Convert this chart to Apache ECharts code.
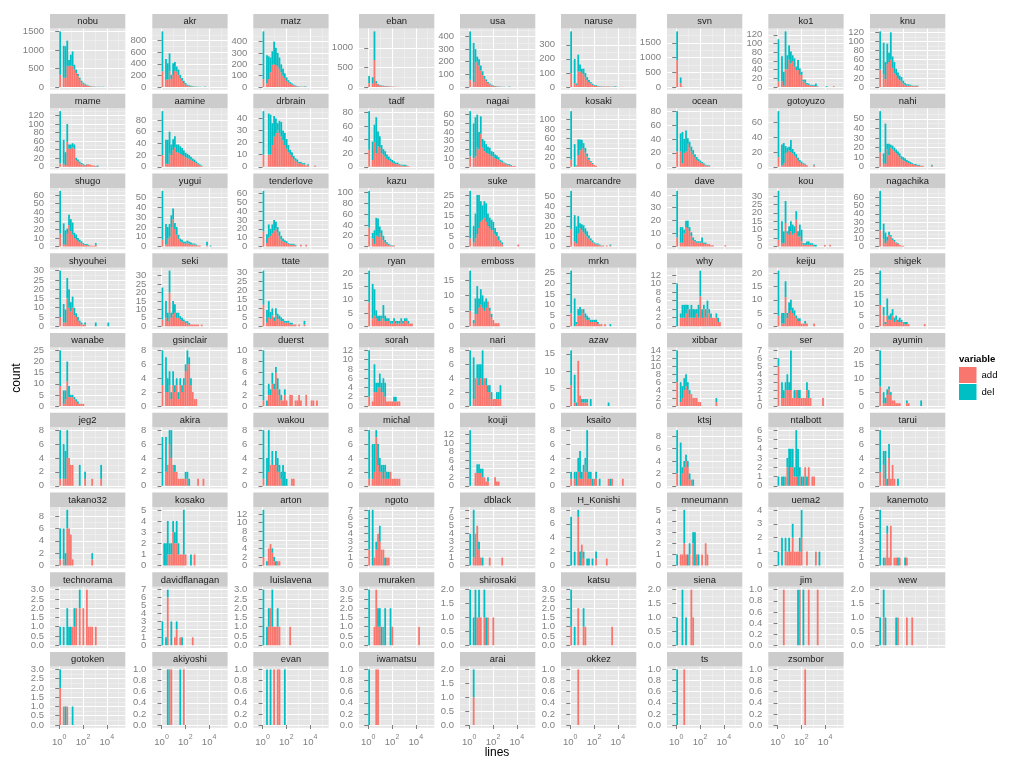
<!DOCTYPE html>
<html><head><meta charset="utf-8">
<script src="https://cdn.jsdelivr.net/npm/echarts@6/dist/echarts.min.js"></script>
<style>html,body{margin:0;padding:0;background:#fff}#c{width:1024px;height:768px}</style>
</head><body><div id="c"></div>
<script>
// ---- facet names (row-major, 9 per row) ----
const panelNames = ['nobu','akr','matz','eban','usa','naruse','svn','ko1','knu',
'mame','aamine','drbrain','tadf','nagai','kosaki','ocean','gotoyuzo','nahi',
'shugo','yugui','tenderlove','kazu','suke','marcandre','dave','kou','nagachika',
'shyouhei','seki','ttate','ryan','emboss','mrkn','why','keiju','shigek',
'wanabe','gsinclair','duerst','sorah','nari','azav','xibbar','ser','ayumin',
'jeg2','akira','wakou','michal','kouji','ksaito','ktsj','ntalbott','tarui',
'takano32','kosako','arton','ngoto','dblack','H_Konishi','mneumann','uema2','kanemoto',
'technorama','davidflanagan','luislavena','muraken','shirosaki','katsu','siena','jim','wew',
'gotoken','akiyoshi','evan','iwamatsu','arai','okkez','ts','zsombor'];

// y tick step per panel (same order)
const yStep = [500,200,100,500,100,100,500,20,20,
20,20,10,20,10,20,20,20,10,
10,10,10,20,5,10,10,5,10,
5,5,5,5,5,5,2,5,5,
5,2,2,2,2,5,2,1,5,
2,2,2,2,2,2,2,1,2,
2,1,2,1,1,2,1,1,1,
0.5,1,0.5,0.5,0.5,0.5,0.5,0.2,0.5,
0.5,0.2,0.2,0.2,0.5,0.2,0.2,0.2];

// x axis (log10 of lines) major / minor ticks
const xMajor = [0,2,4];
const xMinor = [1,3,5];
const binWidth = 0.15; // histogram bin width in log10 units; bin k covers [k*bw,(k+1)*bw]

// ---- counts per histogram bin: add (red) and del (teal) ----
const nobu_add = [330,0,250,250,570,560,580,560,470,380,290,200,130,90,65,45,30,20,12,8,5,3,2,2,1];
const nobu_del = [1170,0,860,850,680,170,290,400,130,90,60,50,40,30,20,15,10,8,5,4,3,3,8,2,5,2];
const akr_add = [270,0,125,130,270,140,210,280,268,210,154,108,68,40,23,15,10,6,4,3,2,1,0,0,0];
const akr_del = [690,0,360,280,310,70,200,150,86,90,56,46,40,28,17,13,10,8,5,3,2,2,2,1,8];
const matz_add = [70,0,30,70,130,195,200,195,180,160,130,100,80,55,40,28,20,13,8,5,3,2,1,1,2];
const matz_del = [420,0,250,200,130,120,200,150,120,100,70,60,40,30,20,15,10,8,5,3,2,2,1,4,2];
const eban_add = [100,0,90,690,100,60,40,30,25,20,18,15,12,10,8,5,3,2];
const eban_del = [180,0,160,730,50,20,15,10,8,6,5,4,3,2,2,1,1,1];
const usa_add = [57,0,40,195,200,170,130,95,65,45,30,20,13,9,6,4,3,2,1,1,0,0,1];
const usa_del = [383,0,308,105,40,50,40,30,22,15,10,8,6,4,3,2,2,1,1,1,0,0,4];
const naruse_add = [98,0,28,15,110,110,100,90,70,50,35,25,15,10,8,5,4,3,3,3,3,3,2,2,2,0,0,1,1,1];
const naruse_del = [297,0,172,10,120,50,30,40,30,20,15,10,8,5,4,3,2,2,1,1,1,1,1,1,1,5];
const svn_add = [920,0,134,10];
const svn_del = [970,0,190,0];
const ko1_add = [13,0,13,3,41,41,63,54,60,47,39,39,28,28,13,10,6,5,3,3,2,2,1,0,0,0,0,0,0,0,0,2];
const ko1_del = [97,0,58,32,87,32,33,28,13,19,8,23,15,7,4,7,3,3,2,2,2,6,1,0,0,0,0,2];
const knu_add = [38,0,28,17,50,55,60,42,30,25,18,15,12,8,5,3,3,3,2,2,2,2];
const knu_del = [84,0,69,38,45,20,60,25,25,15,14,10,10,6,4,3,3,2,1,1,1,1];

const mame_add = [8,0,7,4,58,42,42,45,42,15,12,8,6,5,3,5,6,5,3,3,2];
const mame_del = [122,0,56,30,42,10,10,10,10,6,5,4,3,2,1,1,0,0,0,0,0,3];
const aamine_add = [20,0,5,5,23,20,28,33,25,24,22,20,18,16,15,14,12,10,8,6,4,2,1];
const aamine_del = [75,0,41,41,37,18,19,19,13,14,13,12,10,8,7,6,5,4,4,3,2,2,1];
const drbrain_add = [10,0,0,10,10,18,25,28,30,28,25,22,18,15,12,10,8,6,5,4,3,3,2,2,1,1,0,0,0,1];
const drbrain_del = [36,0,0,34,33,18,17,12,6,10,12,8,10,8,6,4,4,3,2,2,1,1,1,1,0,1];
const tadf_add = [25,0,10,36,20,30,28,20,18,15,12,10,8,6,5,4,4,3,2,2,1,1,1];
const tadf_del = [57,0,27,26,53,22,17,12,8,8,6,5,4,4,3,2,2,1,1,1,2,1];
const nagai_add = [12,0,10,12,22,20,38,22,18,16,15,14,12,12,10,9,8,6,5,4,3,2,2,1,1,1];
const nagai_del = [52,0,40,45,38,20,20,10,12,10,8,8,6,5,4,4,3,2,2,1,1,1,1,1];
const kosaki_add = [15,0,0,2,25,35,40,38,30,22,15,10,6,4,2];
const kosaki_del = [103,0,48,1,33,23,17,12,10,6,4,2,2];
const ocean_add = [22,0,22,5,20,22,33,28,22,18,14,10,8,6,5,3,2,1,1];
const ocean_del = [58,0,26,45,20,30,8,8,7,6,4,4,3,3,2,2,1,1,1];
const gotoyuzo_add = [13,0,2,5,18,20,22,20,18,15,12,8,6,5,4,3,2,0,0,0,2];
const gotoyuzo_del = [62,0,28,27,10,6,5,16,6,5,5,4,3,2,1,1,0,0,0,0,1];
const nahi_add = [15,0,4,3,18,12,20,18,16,14,12,10,8,7,6,5,4,3,3,2,2,1,1,1,1,0,0,0,0,1];
const nahi_del = [43,0,10,42,6,12,3,4,4,4,4,4,3,3,3,2,2,2,1,1,1,1,1,0,0,0,0,0,0,1];

const shugo_add = [15,0,3,2,15,25,18,14,10,8,6,5,4,3,2,2,1,1,1,1,2];
const shugo_del = [50,0,24,17,6,12,14,14,6,6,4,3,2,1,1,1,1,0,0,0,2];
const yugui_add = [7,0,2,8,10,20,28,18,12,8,5,4,3,3,4,3,2,2,2,1,1,1,0,0,0,1];
const yugui_del = [50,0,21,12,13,12,11,6,8,4,3,3,2,2,2,2,2,1,1,1,0,0,0,0,0,4,0,1];
const tenderlove_add = [17,0,4,10,12,15,18,20,16,12,8,6,5,4,3,2,2,2,1,0,0,2,0,0,2];
const tenderlove_del = [46,0,10,15,8,10,12,8,6,5,4,3,2,2,1,1,1,1,1];
const kazu_add = [35,0,15,5,20,18,25,18,12,8,5,3,2,1,2];
const kazu_del = [68,0,10,25,33,34,12,12,8,4,3,2,1,1];
const suke_add = [4,0,2,4,6,9,12,13,14,12,10,9,8,8,6,5,3,2,1,0,0,0,0,0,0,0,0,1];
const suke_del = [23,0,8,12,19,16,10,7,8,9,6,5,5,4,3,2,2,1,1];
const marcandre_add = [17,0,5,3,13,18,16,14,12,10,8,6,4,3,2,2,1,1,1,0,1,0,1];
const marcandre_del = [38,0,26,17,17,5,6,7,6,5,3,2,2,1,1,1,1,0,0,0,0,0,1];
const dave_add = [7,0,3,3,10,15,14,12,8,5,4,3,3,3,3,2,2,2,2,1,1,0,0,0,0,0,0,1];
const dave_del = [36,0,12,12,3,5,6,3,3,2,1,1,1,1,4,1,1];
const kou_add = [4,0,2,2,14,8,7,9,7,8,16,6,6,3,1,1,1,1,1,1,0,0,0,0,0,0,1,0,0,1];
const kou_del = [29,0,13,7,13,1,5,6,6,4,5,3,7,7,1,1,2,2,1,1,1,1];
const nagachika_add = [20,0,9,4,7,14,12,8,6,4,3,2,1,1];
const nagachika_del = [48,0,19,13,5,4,2,2,2,1,1];

const shyouhei_add = [5,0,2,2,15,10,8,10,6,5,3,2,1,1,1];
const shyouhei_del = [25,0,10,7,11,10,5,6,4,2,2,1,1,0,1,0,0,0,0,0,2,0,0,0,0,0,0,2];
const seki_add = [4,0,5,3,20,5,7,8,5,5,4,3,3,2,2,1,1,1,1,1,1,0,1];
const seki_del = [19,0,10,5,13,3,8,5,3,3,2,2,1,1,1,1];
const ttate_add = [12,0,2,5,4,6,3,6,4,4,3,3,2,2,2,1,1,1,1,0,1,0,0,1];
const ttate_del = [19,0,7,9,4,4,2,4,3,2,2,1,1,1,1,1,1,0,0,0,0,0,0,2];
const ryan_add = [9,0,3,4,3,2,2,3,3,2,2,2,1,1,2,1,1,1,2,1,2,2,1,1,1];
const ryan_del = [12,0,13,10,3,2,2,1,5,2,1,1,1,1,1,1,1,1,1,1,1,1,1];
const emboss_add = [5,0,1,4,4,6,7,6,5,6,8,5,3,2,1,1,1];
const emboss_del = [13,0,1,5,9,3,5,4,3,3,0,1,1];
const mrkn_add = [6,0,0,1,5,5,8,6,4,3,3,2,2,2,2,1,1,1,0,1];
const mrkn_del = [20,0,13,1,3,4,0,2,2,2,1,1,1,1,1,1,0,0,0,0,0,0,1];
const why_add = [0,0,2,2,2,3,4,2,2,2,2,3,2,7,2,4,2,4,3,2,2,2,2,1,1];
const why_del = [10,0,1,3,3,2,1,2,3,2,2,1,3,6,2,1,2,2,1,1,0,0,1,1];
const keiju_add = [4,0,1,1,11,3,5,6,5,4,3,2,2,1,1,1,1,0,0,0,1];
const keiju_del = [17,0,4,4,6,2,4,4,2,2,1,1,1,0,0,1];
const shigek_add = [10,0,5,1,5,3,3,5,2,3,2,2,2,2,1,1,1,0,0,0,0,0,0,0,0,1];
const shigek_del = [16,0,4,1,8,2,3,3,2,2,1,2,1,0,1,1];

const wanabe_add = [9,0,1,3,11,4,4,4,3,2,1,1,1,1];
const wanabe_del = [16,0,6,4,9,5,1,1,1,1,1];
const gsinclair_add = [3,0,2,2,3,1,3,2,3,1,3,2,3,5,6,6,3,2,1,1];
const gsinclair_del = [5,0,5,2,2,1,2,1,1,1,1,1,1,1,2,1,1];
const duerst_add = [1,0,0,2,2,4,3,6,3,2,1,1,2,1,0,2,2,0,1,1,2,1,0,0,2,0,0,1,1,0,1];
const duerst_del = [9,0,1,2,1,2,1,1,2,1,1,0,1];
const sorah_add = [2,0,1,3,3,4,4,3,3,2,1,1,1,1,1,1,1,1];
const sorah_del = [10,0,0,6,2,1,3,2,3,3,0,0,0,0,1,1];
const nari_add = [0,0,1,4,4,3,4,3,4,3,2,2,1,1,1,1,1,1];
const nari_del = [8,0,6,0,2,3,2,5,0,1,1,1,1,0,0,1,1,2];
const azav_add = [6,0,1,0,13,3,1,1,1,1];
const azav_del = [10,0,8,1,0,0,1,1,1,1,0,2,0,0,0,0,0,0,0,0,0,1];
const xibbar_add = [6,0,1,2,4,5,4,3,3,2,2,2,1,1,0,0,0,0,0,0,0,0,1];
const xibbar_del = [8,0,5,3,3,3,2,1,0,0,0,0,0,0,0,0,0,0,0,0,0,0,1];
const ser_add = [5,0,1,1,2,2,2,2,1,1,2,1,1,1,1,1,2,1,1,0,0,0,0,0,0,1];
const ser_del = [1,0,2,1,1,2,1,5,0,1,0,1,1,0,0,0,1,1];
const ayumin_add = [7,0,1,1,4,6,4,2,2,1,1,1,0,0,0,1,1];
const ayumin_del = [13,0,4,2,2,1,1,0,0,0,0,0,0,0,0,1,0,0,0,0,0,0,0,2];

const jeg2_add = [1,0,1,1,4,4,3,3,0,0,0,0,0,0,1,0,0,0,1,0,0,0,0,1];
const jeg2_del = [7,0,5,4,4,0,0,0,0,0,0,3,0,0,1,0,0,0,0,0,0,0,0,2];
const akira_add = [0,0,2,3,6,4,3,2,2,1,1,1,1,1,1,0,0,0,0,0,1,0,0,1];
const akira_del = [7,0,5,0,2,4,0,1,0,0,0,0,0,1,1,1];
const wakou_add = [1,0,0,2,3,3,3,3,2,2,1,0,0,0,0,0,1,1];
const wakou_del = [7,0,4,6,0,2,0,2,2,1,1,3,2,1];
const michal_add = [1,0,1,2,7,3,2,2,1,2,1,1,2,1,1,1,1,1];
const michal_del = [7,0,5,4,1,3,2,1,2,1,1,1];
const kouji_add = [0,0,0,3,3,3,3,2,2,1,1,0,0,0,2,1,1];
const kouji_del = [13,0,0,0,2,2,1,2,0,0,1];
const ksaito_add = [1,0,1,0,2,1,1,2,3,2,1,1,0,1,1,0,0,0,0,0,0,1,0,1,0,0,0,0,0,1];
const ksaito_del = [1,0,1,2,2,4,1,1,1,6,1,1,1,0,1,0,1,0,0,0,0,0,1];
const ktsj_add = [2,0,0,2,3,4,3,1,1,0];
const ktsj_del = [7,0,7,1,1,1,1,1,0,1];
const ntalbott_add = [0,0,0,0,1,2,0,2,2,1,1,0,1,0,0,2,0,2,0,1,1];
const ntalbott_del = [1,0,1,1,0,1,4,2,2,1,5,4,1,1,1,0,1];
const tarui_add = [2,0,3,1,0,4,1,3,1];
const tarui_del = [6,0,2,4,1,2,0,0,0,0,1];

const takano32_add = [1,0,1,0,6,6,5,1,0,0,0,0,0,0,0,0,0,0,1];
const takano32_del = [5,0,5,2,3,0,0,0,0,0,0,0,0,0,0,0,0,0,1];
const kosako_add = [0,0,0,1,1,1,3,2,2,1,1,1,1,1,0,0,0,0,1];
const kosako_del = [0,2,2,3,1,1,1,1,2,1,0,0,4,0,0,0,1];
const arton_add = [2,0,0,4,5,3,1,0,1,1];
const arton_del = [11,0,1,0,0,1,1,1];
const ngoto_add = [2,0,0,1,2,4,3,2,2,0,1,1];
const ngoto_del = [5,0,7,0,1,0,2,0,0,1];
const dblack_add = [0,0,1,4,5,2,1,0,0,0,0,1,0,0,0,0,0,0,1];
const dblack_del = [4,0,6,0,0,1,0,1];
const H_Konishi_add = [0,0,0,0,7,0,3,1,0,0,0,0,0,0,1,0,0,0,0,0,1];
const H_Konishi_del = [7,0,2,0,1,2,0,1,0,1,1,0,1,0,1];
const mneumann_add = [0,0,1,1,2,1,0,1,0,2,0,1,0,0,1,0,2,1];
const mneumann_del = [1,0,0,0,3,0,1,1,0,1,3,0,1];
const uema2_add = [0,0,0,0,1,1,1,1,2,1,1,1,1,2,0,0,1,0,0,0,0,1];
const uema2_del = [1,0,2,0,1,0,1,0,1,0,0,0,1,2,0,0,0,0,0,0,0,0,0,1];
const kanemoto_add = [0,0,0,1,4,1,5,0,1,1,0,1,0,0,0,1];
const kanemoto_del = [7,0,1,0,1,0,0,0,0,0,1,0,0,0,1];

const technorama_add = [0,0,0,0,0,0,0,1,1,2,0,2,0,2,0,3,1,1,1,0,1];
const technorama_del = [1,0,1,0,2,1,1,0,1,0,0,1];
const davidflanagan_add = [0,0,0,6,0,0,0,1,2,0,1,0,0,0,0,0,0,1];
const davidflanagan_del = [3,0,1,1,0,3,0,0,1,0,0,1];
const luislavena_add = [0,0,0,1,2,1,1,1,1,1,0,0,0,0,0,1];
const luislavena_del = [3,0,1,1,0,2,0,0,1];
const muraken_add = [0,0,0,1,3,1,1,0,1,0,0,0,0,1,0,0,0,0,0,0,0,0,0,0,0,0,0,0,1];
const muraken_del = [3,0,0,0,0,1,1,1,0,2,0,0,2];
const shirosaki_add = [0,0,0,0,1,1,1,0,1,0,1,0,0,1];
const shirosaki_del = [2,0,1,2,0,1,0,0,1,1];
const katsu_add = [1,0,0,0,2,0,0,1,1,0,0,0,0,0,0,0,0,0,0,0,0,0,0,1];
const katsu_del = [2,0,1,0,0,0,0,1];
const siena_add = [0,0,0,0,0,0,0,0,2,1];
const siena_del = [1,0,0,2,0,1];
const jim_add = [0,0,0,1,0,0,0,0,0,0,0,0,1,0,0,0,0,1,0,0,0,0,1];
const jim_del = [0,0,0,0,0,0,0,0,0,0,0,1,0,0,1];
const wew_add = [0,0,1,0,0,0,0,0,0,0,1,0,0,0,0,1,0,0,1];
const wew_del = [1,0,1,1,0,0,0,0,0,1];

const gotoken_add = [2,0,1,0,1];
const gotoken_del = [1,0,0,1,0,0,0,1];
const akiyoshi_add = [0,0,0,0,1,1,0,0,0,0,0,0,1];
const akiyoshi_del = [0,0,0,1,0,0,0,0,0,0,1];
const evan_add = [0,0,0,0,0,0,1,0,1,1];
const evan_del = [0,0,1,0,1,0,0,0,0,0,0,0,1];
const iwamatsu_add = [0,0,0,0,1,1];
const iwamatsu_del = [1];
const arai_add = [0,0,1];
const arai_del = [0,0,1];
const okkez_add = [0,0,0,0,1];
const okkez_del = [0];
const ts_add = [0,0,0,0,1];
const ts_del = [1];
const zsombor_add = [0,0,0,0,0,0,0,0,0,0,0,0,0,0,0,1];
const zsombor_del = [0];

const addLists = [nobu_add,akr_add,matz_add,eban_add,usa_add,naruse_add,svn_add,ko1_add,knu_add,
mame_add,aamine_add,drbrain_add,tadf_add,nagai_add,kosaki_add,ocean_add,gotoyuzo_add,nahi_add,
shugo_add,yugui_add,tenderlove_add,kazu_add,suke_add,marcandre_add,dave_add,kou_add,nagachika_add,
shyouhei_add,seki_add,ttate_add,ryan_add,emboss_add,mrkn_add,why_add,keiju_add,shigek_add,
wanabe_add,gsinclair_add,duerst_add,sorah_add,nari_add,azav_add,xibbar_add,ser_add,ayumin_add,
jeg2_add,akira_add,wakou_add,michal_add,kouji_add,ksaito_add,ktsj_add,ntalbott_add,tarui_add,
takano32_add,kosako_add,arton_add,ngoto_add,dblack_add,H_Konishi_add,mneumann_add,uema2_add,kanemoto_add,
technorama_add,davidflanagan_add,luislavena_add,muraken_add,shirosaki_add,katsu_add,siena_add,jim_add,wew_add,
gotoken_add,akiyoshi_add,evan_add,iwamatsu_add,arai_add,okkez_add,ts_add,zsombor_add];
const delLists = [nobu_del,akr_del,matz_del,eban_del,usa_del,naruse_del,svn_del,ko1_del,knu_del,
mame_del,aamine_del,drbrain_del,tadf_del,nagai_del,kosaki_del,ocean_del,gotoyuzo_del,nahi_del,
shugo_del,yugui_del,tenderlove_del,kazu_del,suke_del,marcandre_del,dave_del,kou_del,nagachika_del,
shyouhei_del,seki_del,ttate_del,ryan_del,emboss_del,mrkn_del,why_del,keiju_del,shigek_del,
wanabe_del,gsinclair_del,duerst_del,sorah_del,nari_del,azav_del,xibbar_del,ser_del,ayumin_del,
jeg2_del,akira_del,wakou_del,michal_del,kouji_del,ksaito_del,ktsj_del,ntalbott_del,tarui_del,
takano32_del,kosako_del,arton_del,ngoto_del,dblack_del,H_Konishi_del,mneumann_del,uema2_del,kanemoto_del,
technorama_del,davidflanagan_del,luislavena_del,muraken_del,shirosaki_del,katsu_del,siena_del,jim_del,wew_del,
gotoken_del,akiyoshi_del,evan_del,iwamatsu_del,arai_del,okkez_del,ts_del,zsombor_del];

// ---- layout ----
const FF = '"Liberation Sans", Arial, Helvetica, sans-serif';
const colX = [50, 152.3, 253.3, 359, 460, 561, 667, 768.3, 870];
const PW = 75.3, PH = 61.2, SH = 14.6, ROWP = 79.75, TOP0 = 14;
const XMIN = -0.775, XMAX = 5.555;
const RED = '#F8766D', TEAL = '#00BFC4', GREY = '#7F7F7F';

// stacked histogram rectangle: value(0)=bin centre, value(1)=stack base, value(2)=count
function renderStacked(params, api) {
  const x = api.value(0), base = api.value(1), h = api.value(2);
  if (!h) return null;
  const p0 = api.coord([x - binWidth / 2, base]);
  const p1 = api.coord([x + binWidth / 2, base + h]);
  return {type: 'rect', shape: {x: p0[0], y: p1[1], width: p1[0] - p0[0], height: p0[1] - p1[1]},
    style: {fill: api.visual('color')}};
}

const grids = [], xAxes = [], yAxes = [], series = [], graphics = [];

panelNames.forEach((name, i) => {
  const r = Math.floor(i / 9), c = i % 9;
  const stripTop = TOP0 + r * ROWP;
  const gtop = stripTop + SH;
  const isBottom = r === 8;
  const a = addLists[i], d = delLists[i];
  const n = Math.max(a.length, d.length);
  const addData = [], delData = [];
  let M = 0;
  for (let k = 0; k < n; k++) {
    const x = (k + 0.5) * binWidth;
    const av = a[k] || 0, dv = d[k] || 0;
    addData.push([x, 0, av]);
    delData.push([x, av, dv]);
    M = Math.max(M, av + dv);
  }
  const step = yStep[i];
  const ymin = -0.05 * M, ymax = 1.05 * M;
  const maj = [], mnr = [];
  for (let k = 0; k * step <= M + 1e-9; k++) maj.push(Math.round(k * step * 1000) / 1000);
  for (let k = 0; (k + 0.5) * step <= ymax; k++) mnr.push(Math.round((k + 0.5) * step * 1000) / 1000);
  // labels split over two axes so that neighbouring labels never get auto-hidden
  const majEven = maj.filter((v, k) => k % 2 === 0);
  const majOdd = maj.filter((v, k) => k % 2 === 1);
  const yFmt = v => step < 1 ? Number(v).toFixed(1) : String(Math.round(v));
  const yLabel = vals => ({show: true, customValues: vals, margin: 6, color: GREY, fontSize: 9.5,
    fontFamily: FF, lineHeight: 7, showMinLabel: true, showMaxLabel: true, hideOverlap: false, formatter: yFmt});

  grids.push({left: colX[c], top: gtop, width: PW, height: PH, show: true,
    backgroundColor: '#E5E5E5', borderWidth: 0});

  xAxes.push({gridIndex: i, type: 'value', position: 'bottom', min: XMIN, max: XMAX, z: 1,
    axisLine: {show: false},
    axisTick: {show: isBottom, customValues: xMajor, length: 4, lineStyle: {color: GREY, width: 1}},
    axisLabel: {show: isBottom, customValues: xMajor, margin: 6, color: GREY,
      showMinLabel: true, showMaxLabel: true, hideOverlap: false,
      formatter: v => '{b|10}{s|' + v + '}',
      rich: {b: {fontSize: 9.6, fontFamily: FF, color: GREY, lineHeight: 14, verticalAlign: 'bottom'},
             s: {fontSize: 7, fontFamily: FF, color: GREY, lineHeight: 7, verticalAlign: 'top'}}},
    splitLine: {show: true, lineStyle: {color: '#FFFFFF', width: 1.1}}});
  xAxes.push({gridIndex: i, type: 'value', position: 'bottom', min: XMIN, max: XMAX, z: 0,
    axisLine: {show: false}, axisTick: {show: false, customValues: xMinor},
    axisLabel: {show: false, customValues: xMinor},
    splitLine: {show: true, lineStyle: {color: '#F2F2F2', width: 0.6}}});

  yAxes.push({gridIndex: i, type: 'value', position: 'left', min: ymin, max: ymax, z: 1,
    axisLine: {show: false},
    axisTick: {show: true, customValues: maj, length: 4, lineStyle: {color: GREY, width: 1}},
    axisLabel: yLabel(majEven),
    splitLine: {show: true, lineStyle: {color: '#FFFFFF', width: 1.1}}});
  yAxes.push({gridIndex: i, type: 'value', position: 'left', min: ymin, max: ymax, z: 0,
    axisLine: {show: false}, axisTick: {show: false, customValues: mnr},
    axisLabel: majOdd.length ? yLabel(majOdd) : {show: false},
    splitLine: {show: true, lineStyle: {color: '#F2F2F2', width: 0.6}}});

  series.push({type: 'custom', name: 'add', xAxisIndex: 2 * i, yAxisIndex: 2 * i,
    renderItem: renderStacked, encode: {x: 0, y: 2}, itemStyle: {color: RED},
    data: addData, silent: true, z: 3});
  series.push({type: 'custom', name: 'del', xAxisIndex: 2 * i, yAxisIndex: 2 * i,
    renderItem: renderStacked, encode: {x: 0, y: 2}, itemStyle: {color: TEAL},
    data: delData, silent: true, z: 3});

  graphics.push({type: 'rect', shape: {x: colX[c], y: stripTop, width: PW, height: SH},
    style: {fill: '#CCCCCC'}, silent: true});
  graphics.push({type: 'text', x: colX[c] + PW / 2, y: stripTop + SH / 2 + 0.5, silent: true,
    style: {text: name, fill: '#1A1A1A', fontSize: 9.4, fontFamily: FF, align: 'center', verticalAlign: 'middle'}});
});

graphics.push({type: 'text', x: 17, y: 378, rotation: Math.PI / 2, silent: true,
  style: {text: 'count', fill: '#000', fontSize: 12, fontFamily: FF, align: 'center', verticalAlign: 'middle'}});
graphics.push({type: 'text', x: 497, y: 753, silent: true,
  style: {text: 'lines', fill: '#000', fontSize: 12, fontFamily: FF, align: 'center', verticalAlign: 'middle'}});
graphics.push({type: 'text', x: 959, y: 359, silent: true,
  style: {text: 'variable', fill: '#000', fontSize: 9.6, fontWeight: 'bold', fontFamily: FF, align: 'left', verticalAlign: 'middle'}});

const chart = echarts.init(document.getElementById('c'), null, {renderer: 'canvas'});
chart.setOption({
  animation: false,
  backgroundColor: '#FFFFFF',
  grid: grids, xAxis: xAxes, yAxis: yAxes, series: series,
  legend: {data: ['add', 'del'], orient: 'vertical', left: 959, top: 367, padding: 0,
    itemWidth: 17.5, itemHeight: 16, itemGap: 1, icon: 'rect', selectedMode: false,
    textStyle: {fontSize: 9.6, fontFamily: FF, color: '#000'}},
  graphic: graphics
});
</script>
</body></html>
